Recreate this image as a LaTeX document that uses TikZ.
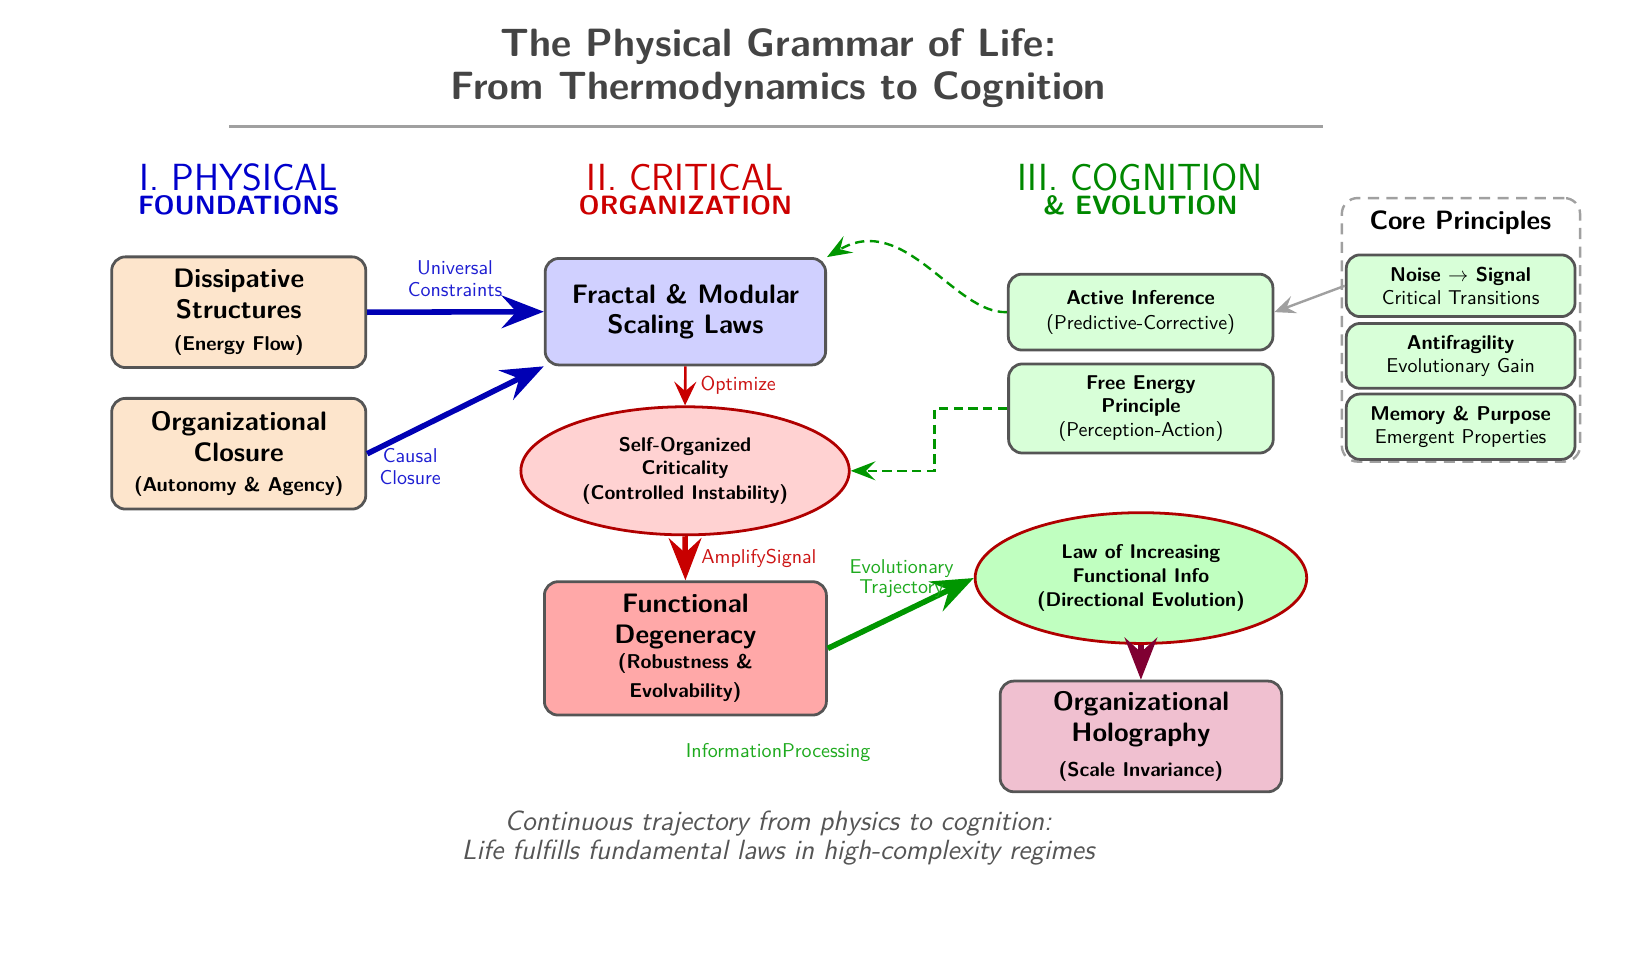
\documentclass[tikz,border=0pt]{standalone}
\usepackage{tikz}
\usetikzlibrary{arrows.meta,shapes.geometric}
\renewcommand{\familydefault}{\sfdefault}
\definecolor{hblue}{RGB}{0,0,204}
\definecolor{hred}{RGB}{204,0,0}
\definecolor{hgreen}{RGB}{0,136,0}
\definecolor{ablue}{RGB}{0,0,180}
\definecolor{lblue}{RGB}{30,30,210}
\definecolor{ared}{RGB}{200,0,0}
\definecolor{lred}{RGB}{204,20,20}
\definecolor{agreen}{RGB}{0,150,0}
\definecolor{lgreen}{RGB}{30,170,30}
\definecolor{amaroon}{RGB}{128,0,50}
\definecolor{bord}{RGB}{85,85,85}
\definecolor{fpeach}{RGB}{253,229,204}
\definecolor{fblue}{RGB}{208,208,255}
\definecolor{fpink}{RGB}{255,210,210}
\definecolor{fred}{RGB}{255,168,168}
\definecolor{fgreen}{RGB}{216,255,216}
\definecolor{fgreentwo}{RGB}{192,255,192}
\definecolor{fmag}{RGB}{240,192,208}
\definecolor{eborder}{RGB}{176,0,0}
\definecolor{tgray}{RGB}{68,68,68}
\definecolor{cgray}{RGB}{85,85,85}
\definecolor{lgray}{RGB}{160,160,160}
\newcommand{\subfont}{\fontsize{10.8}{13}\selectfont\bfseries}
\begin{document}
\begin{tikzpicture}[x=0.02cm, y=-0.02cm,
  box/.style={draw=bord, line width=1.5pt, rounded corners=0.26cm, align=center, inner sep=2pt},
  bigbox/.style={box, font=\fontsize{14.4}{16.7}\selectfont},
  smallbox/.style={box, fill=fgreen, font=\fontsize{10.8}{13.2}\selectfont},
  minibox/.style={box, fill=fgreen, font=\fontsize{10.8}{12.2}\selectfont, minimum width=4.34cm},
  ell/.style={ellipse, draw=eborder, line width=1.5pt, align=center, inner sep=0pt, font=\fontsize{10.7}{12.8}\selectfont},
  lab/.style={align=center, font=\fontsize{10.8}{11.6}\selectfont, inner sep=0pt},
  bigarrow/.style={line width=3pt, -{Stealth[length=0.8cm, width=0.62cm, inset=0.28cm]}},
  thinarrow/.style={line width=1.4pt, -{Stealth[length=0.45cm, width=0.42cm, inset=0.18cm]}},
  dasharrow/.style={draw=agreen, line width=1.3pt, dash pattern=on 5pt off 3pt, -{Stealth[length=0.47cm, width=0.36cm, inset=0.18cm]}},
  hdr/.style={anchor=base, font=\fontsize{20.4}{22}\selectfont, inner sep=0pt},
  hdrsub/.style={anchor=base, font=\fontsize{14.3}{16}\selectfont\bfseries, inner sep=0pt},
  ttl/.style={anchor=base, text=tgray, font=\fontsize{21.3}{25}\selectfont\bfseries, inner sep=0pt},
  capt/.style={anchor=base, text=cgray, font=\fontsize{15}{17}\selectfont\itshape, inner sep=0pt}
]
\useasboundingbox (0,0) rectangle (1561,905);

% title
\node[ttl] (t1) at (738,53.7) {The Physical Grammar of Life:};
\node[ttl] (t2) at (738,94.8) {From Thermodynamics to Cognition};
\coordinate (rl) at (217.2,120);
\coordinate (rr) at (1254.8,120);
\draw[lgray, line width=1.8pt] (rl) -- (rr);

% headers
\node[hdr, text=hblue] (h1) at (226.5,181) {I. PHYSICAL};
\node[hdrsub, text=hblue] (h1s) at (226.5,203.5) {FOUNDATIONS};
\node[hdr, text=hred] (h2) at (650,181) {II. CRITICAL};
\node[hdrsub, text=hred] (h2s) at (650,203.5) {ORGANIZATION};
\node[hdr, text=hgreen] (h3) at (1081,181) {III. COGNITION};
\node[hdrsub, text=hgreen] (h3s) at (1081.5,203) {\& EVOLUTION};

% column I
\node[bigbox, fill=fpeach, minimum width=4.82cm, minimum height=2.1cm] (dis) at (226.4,296.1)
  {\bfseries Dissipative\\\bfseries Structures\\[1pt]\subfont (Energy Flow)};
\node[bigbox, fill=fpeach, minimum width=4.82cm, minimum height=2.1cm] (org) at (226.4,430.3)
  {\bfseries Organizational\\\bfseries Closure\\[-0.5pt]\subfont (Autonomy \& Agency)};

% column II
\node[bigbox, fill=fblue, minimum width=5.32cm, minimum height=2.02cm] (frac) at (650,295.6)
  {\bfseries Fractal \& Modular\\\bfseries Scaling Laws};
\node[ell, fill=fpink, minimum width=6.23cm, minimum height=2.43cm] (soc) at (649.7,446.5)
  {\bfseries Self-Organized\\\bfseries Criticality\\[0.5pt]\bfseries (Controlled Instability)};
\node[bigbox, fill=fred, minimum width=5.35cm, minimum height=2.53cm] (func) at (650,614.9)
  {\bfseries Functional\\\bfseries Degeneracy\\[-3.2pt]\subfont (Robustness \&\\[-1.1pt]\subfont Evolvability)};

% column III
\node[smallbox, minimum width=5.02cm, minimum height=1.44cm] (ai) at (1081.7,296)
  {\bfseries Active Inference\\[0.3pt](Predictive-Corrective)};
\node[smallbox, minimum width=5.02cm, minimum height=1.69cm, font=\fontsize{10.8}{12.6}\selectfont] (fe) at (1082,387.4)
  {\bfseries Free Energy\\\bfseries Principle\\[0.5pt](Perception-Action)};
\node[ell, fill=fgreentwo, minimum width=6.29cm, minimum height=2.48cm] (law) at (1082,548.2)
  {\bfseries Law of Increasing\\\bfseries Functional Info\\[0.5pt]\bfseries (Directional Evolution)};
\node[bigbox, fill=fmag, minimum width=5.34cm, minimum height=2.1cm] (holo) at (1082,698.4)
  {\bfseries Organizational\\\bfseries Holography\\[1.8pt]\subfont (Scale Invariance)};

% core principles
\node[draw=lgray, line width=1.3pt, dash pattern=on 6pt off 4pt, rounded corners=0.3cm,
      minimum width=4.52cm, minimum height=5.0cm, inner sep=0pt] (core) at (1385.5,312.8) {};
\node[anchor=base, font=\fontsize{14.3}{16}\selectfont\bfseries, inner sep=0pt] (coret) at (1385,217.5) {Core Principles};
\node[minibox, minimum height=1.17cm] (noise) at (1385.2,271)
  {\bfseries Noise $\rightarrow$ Signal\\Critical Transitions};
\node[minibox, minimum height=1.23cm] (anti) at (1385.2,337.5)
  {\bfseries Antifragility\\Evolutionary Gain};
\node[minibox, minimum height=1.24cm] (mem) at (1385.2,404.7)
  {\bfseries Memory \& Purpose\\Emergent Properties};

% connectors
\draw[bigarrow, ablue] (dis.east) -- (frac.west);
\node[lab, text=lblue] (lu) at (431.5,264.5) {Universal\\Constraints};
\draw[bigarrow, ablue] (org.east) -- (frac.south west);
\node[lab, text=lblue] (lc) at (389,442.3) {Causal\\Closure};
\draw[thinarrow, ared] (frac.south) -- (soc.north);
\node[lab, text=lred, anchor=base west] (lo) at (664,370.5) {Optimize};
\draw[bigarrow, ared] (soc.south) -- (func.north);
\node[lab, text=lred, anchor=base west] (la) at (664.8,534.3) {AmplifySignal};
\draw[bigarrow, agreen] (func.east) -- (law.west);
\node[lab, text=lgreen, font=\fontsize{10.8}{10.6}\selectfont] (le) at (855,548.8) {Evolutionary\\Trajectory};
\draw[bigarrow, amaroon] (law.south) -- (holo.north);
\node[lab, text=lgreen] (li) at (738,714) {InformationProcessing};
\draw[dasharrow] (ai.west) .. controls (905,298) and (858,200) .. (frac.north east);
\draw[dasharrow] (fe.west) -- ++(-69,0) |- (soc.east);
\draw[lgray, line width=1.3pt, -{Stealth[length=0.4cm, width=0.34cm, inset=0.15cm]}] (noise.west) -- (ai.east);

% caption
\node[capt] (c1) at (738,788) {Continuous trajectory from physics to cognition:};
\node[capt] (c2) at (738,815) {Life fulfills fundamental laws in high-complexity regimes};
\end{tikzpicture}
\end{document}
